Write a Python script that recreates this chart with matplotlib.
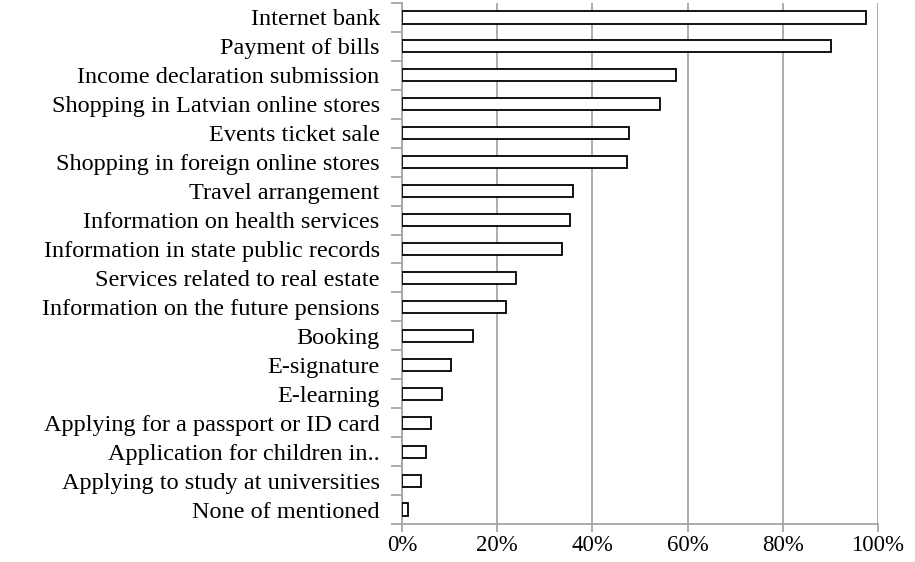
import numpy as np
import matplotlib.pyplot as plt
from matplotlib.ticker import FixedLocator, PercentFormatter

services = ['Internet bank', 'Payment of bills', 'Income declaration submission',
            'Shopping in Latvian online stores', 'Events ticket sale',
            'Shopping in foreign online stores', 'Travel arrangement',
            'Information on health services', 'Information in state public records',
            'Services related to real estate', 'Information on the future pensions',
            'Booking', 'E-signature', 'E-learning', 'Applying for a passport or ID card',
            'Application for children in..', 'Applying to study at universities',
            'None of mentioned']
share = [97.5, 90.2, 57.6, 54.3, 47.6, 47.2, 36.0, 35.2, 33.6, 24.0, 21.9,
         15.0, 10.3, 8.5, 6.1, 5.0, 3.9, 1.2]

plt.rcParams['font.family'] = ['Liberation Serif', 'DejaVu Serif']

fig = plt.figure(figsize=(9.15, 5.62), dpi=100)
ax = fig.add_axes([0.4393, 0.0676, 0.9596 - 0.4393, 0.9947 - 0.0676])

grey = '#a6a6a6'
y = np.arange(len(services))
ax.barh(y, share, height=0.42, color='white', edgecolor='black', linewidth=1.3, zorder=3)

ax.set_xlim(0, 100)
ax.set_ylim(len(services) - 0.5, -0.5)
ax.set_xticks(np.arange(0, 101, 20))
ax.xaxis.set_major_formatter(PercentFormatter(decimals=0))
ax.grid(axis='x', color=grey, linewidth=1.3, zorder=0)

ax.set_yticks(y)
ax.set_yticklabels(services)
ax.yaxis.set_minor_locator(FixedLocator(np.arange(-0.5, len(services), 1)))
ax.tick_params(axis='y', which='major', length=0, pad=16, labelsize=17.5)
ax.tick_params(axis='y', which='minor', length=8, color=grey, width=1.3)
ax.tick_params(axis='x', length=6, color=grey, width=1.3, pad=2, labelsize=16.5)

for side in ['top', 'right']:
    ax.spines[side].set_visible(False)
for side in ['left', 'bottom']:
    ax.spines[side].set_color(grey)
    ax.spines[side].set_linewidth(1.3)

fig.savefig('out.png', dpi=100)
